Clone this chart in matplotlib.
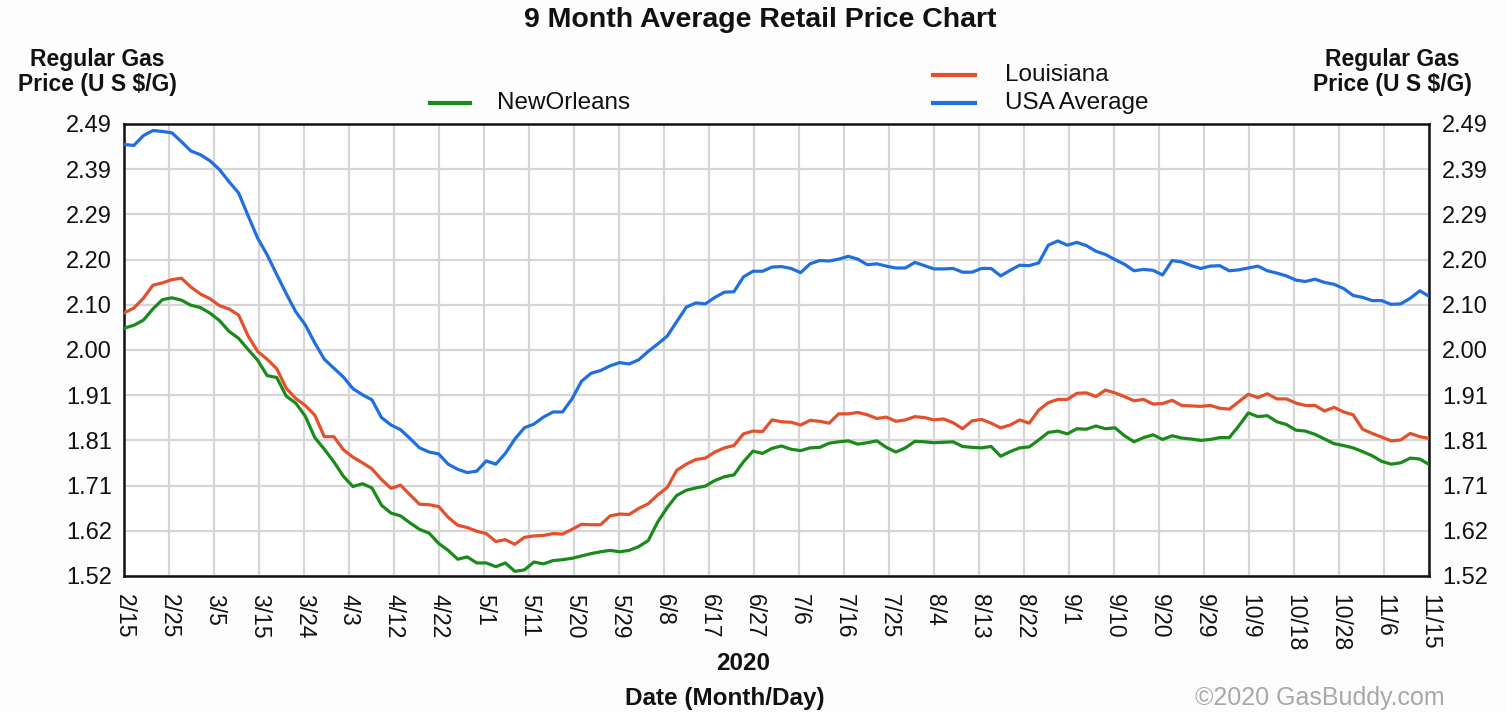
import numpy as np
import matplotlib
matplotlib.use("Agg")
import matplotlib.pyplot as plt
from matplotlib.lines import Line2D

plt.rcParams['font.family'] = ['Liberation Sans', 'DejaVu Sans']

# ---- data (day offset from Feb 15, 2020, sampled every 2 days) ----
days = np.arange(0, 275, 2)

usa_average = [
    2.446, 2.444, 2.465, 2.476, 2.474, 2.471, 2.452, 2.432, 2.424, 2.411,
    2.392, 2.366, 2.342, 2.293, 2.245, 2.209, 2.167, 2.126, 2.087, 2.059,
    2.020, 1.985, 1.966, 1.947, 1.922, 1.909, 1.898, 1.860, 1.844, 1.834,
    1.815, 1.795, 1.786, 1.782, 1.760,
    1.749, 1.742, 1.745, 1.767, 1.760, 1.783, 1.814, 1.838, 1.846, 1.861,
    1.872, 1.872, 1.900, 1.938, 1.955, 1.961, 1.971, 1.978, 1.975, 1.984,
    2.002, 2.018, 2.035, 2.066, 2.097, 2.106, 2.104, 2.118, 2.129, 2.130,
    2.162, 2.174, 2.174, 2.183, 2.184,
    2.180, 2.171, 2.190, 2.197, 2.196, 2.200, 2.206, 2.200, 2.188, 2.190,
    2.185, 2.181, 2.181, 2.193, 2.186, 2.179, 2.179, 2.180, 2.172, 2.172,
    2.180, 2.180, 2.164, 2.176, 2.187, 2.186, 2.192, 2.230, 2.239, 2.230,
    2.236, 2.229, 2.217, 2.210, 2.199,
    2.189, 2.175, 2.178, 2.176, 2.166, 2.197, 2.194, 2.186, 2.180, 2.185,
    2.186, 2.175, 2.177, 2.181, 2.185, 2.175, 2.170, 2.164, 2.155, 2.152,
    2.157, 2.150, 2.146, 2.137, 2.122, 2.118, 2.111, 2.111, 2.103, 2.104,
    2.116, 2.132, 2.120,
]

louisiana = [
    2.085, 2.095, 2.116, 2.144, 2.149, 2.156, 2.159, 2.140, 2.125, 2.115,
    2.100, 2.093, 2.080, 2.035, 2.002, 1.985, 1.965, 1.923, 1.901, 1.886,
    1.865, 1.819, 1.819, 1.791, 1.775, 1.763, 1.750, 1.727, 1.708, 1.715,
    1.694, 1.674, 1.673, 1.669, 1.646,
    1.629, 1.624, 1.616, 1.611, 1.594, 1.598, 1.588, 1.603, 1.606, 1.607,
    1.611, 1.610, 1.620, 1.631, 1.630, 1.630, 1.649, 1.653, 1.652, 1.665,
    1.675, 1.694, 1.710, 1.747, 1.760, 1.770, 1.773, 1.786, 1.795, 1.800,
    1.825, 1.831, 1.830, 1.855, 1.851,
    1.850, 1.844, 1.854, 1.852, 1.848, 1.868, 1.868, 1.871, 1.866, 1.858,
    1.861, 1.852, 1.855, 1.862, 1.860, 1.855, 1.857, 1.849, 1.836, 1.853,
    1.856, 1.848, 1.838, 1.844, 1.855, 1.848, 1.876, 1.892, 1.899, 1.899,
    1.912, 1.913, 1.905, 1.919, 1.913,
    1.905, 1.896, 1.899, 1.889, 1.890, 1.897, 1.886, 1.885, 1.884, 1.886,
    1.880, 1.878, 1.894, 1.910, 1.903, 1.911, 1.900, 1.900, 1.891, 1.886,
    1.886, 1.874, 1.882, 1.872, 1.866, 1.835, 1.826, 1.818, 1.810, 1.812,
    1.826, 1.819, 1.815,
]

new_orleans = [
    2.052, 2.058, 2.069, 2.093, 2.113, 2.117, 2.112, 2.101, 2.096, 2.084,
    2.068, 2.045, 2.030, 2.006, 1.983, 1.950, 1.946, 1.906, 1.891, 1.863,
    1.817, 1.792, 1.765, 1.734, 1.712, 1.718, 1.709, 1.672, 1.655, 1.649,
    1.634, 1.620, 1.612, 1.590, 1.575,
    1.556, 1.561, 1.548, 1.548, 1.540, 1.548, 1.530, 1.533, 1.550, 1.546,
    1.553, 1.555, 1.558, 1.563, 1.568, 1.572, 1.575, 1.572, 1.575, 1.583,
    1.596, 1.636, 1.667, 1.693, 1.704, 1.709, 1.713, 1.725, 1.733, 1.737,
    1.765, 1.788, 1.783, 1.794, 1.799,
    1.792, 1.789, 1.795, 1.796, 1.805, 1.808, 1.810, 1.803, 1.806, 1.810,
    1.796, 1.786, 1.795, 1.809, 1.808, 1.806, 1.807, 1.808, 1.798, 1.796,
    1.795, 1.798, 1.777, 1.787, 1.795, 1.797, 1.812, 1.828, 1.831, 1.825,
    1.836, 1.835, 1.842, 1.836, 1.838,
    1.821, 1.808, 1.817, 1.823, 1.813, 1.821, 1.816, 1.814, 1.811, 1.813,
    1.817, 1.817, 1.842, 1.870, 1.862, 1.864, 1.851, 1.845, 1.833, 1.831,
    1.824, 1.814, 1.804, 1.800, 1.795, 1.787, 1.778, 1.766, 1.760, 1.763,
    1.773, 1.771, 1.759,
]

x_tick_labels = ["2/15", "2/25", "3/5", "3/15", "3/24", "4/3", "4/12", "4/22",
                 "5/1", "5/11", "5/20", "5/29", "6/8", "6/17", "6/27", "7/6",
                 "7/16", "7/25", "8/4", "8/13", "8/22", "9/1", "9/10", "9/20",
                 "9/29", "10/9", "10/18", "10/28", "11/6", "11/15"]
y_tick_labels = ["1.52", "1.62", "1.71", "1.81", "1.91", "2.00", "2.10",
                 "2.20", "2.29", "2.39", "2.49"]

series_names = ["NewOrleans", "Louisiana", "USA Average"]
colors = {"NewOrleans": "#1a8a1a", "Louisiana": "#e5502c", "USA Average": "#1f6fe0"}

# ---- figure ----
W, H = 1507, 713
fig = plt.figure(figsize=(W / 100, H / 100), dpi=100, facecolor="#fdfdfd")
L, R, T, B = 124.3, 1429.3, 124, 576
ax = fig.add_axes([L / W, 1 - B / H, (R - L) / W, (B - T) / H])
ax.set_facecolor("white")

total_days = 274
ax.set_xlim(0, total_days)
ax.set_ylim(1.52, 2.49)
ax.set_xticks(np.linspace(0, total_days, len(x_tick_labels)))
ax.set_xticklabels(x_tick_labels, rotation=270, fontsize=16.5, va="top", ha="center")
ax.set_yticks(np.linspace(1.52, 2.49, len(y_tick_labels)))
ax.set_yticklabels(y_tick_labels, fontsize=17)
ax.tick_params(axis="both", length=0, colors="#111111")
ax.tick_params(axis="y", pad=9, labelright=True)
ax.tick_params(axis="x", pad=13)
ax.grid(True, color="#d6d6d6", linewidth=1.6)
ax.set_axisbelow(True)
for s in ax.spines.values():
    s.set_linewidth(1.8)
    s.set_color("#111111")

ax.plot(days, new_orleans, color=colors["NewOrleans"], lw=2.3, zorder=3)
ax.plot(days, louisiana, color=colors["Louisiana"], lw=2.3, zorder=4)
ax.plot(days, usa_average, color=colors["USA Average"], lw=2.3, zorder=5)

# ---- texts ----
def fx(px):
    return px / W

def fy(py):
    return 1 - py / H

fig.text(fx(760), fy(20), "9 Month Average Retail Price Chart", fontsize=20.5,
         fontweight="bold", ha="center", va="center", color="#111111")
for cx in (97, 1392):
    fig.text(fx(cx), fy(72), "Regular Gas\nPrice (U S $/G)", fontsize=16.5,
             fontweight="bold", ha="center", va="center", linespacing=1.15,
             color="#111111")

# legend
leg_items = [("NewOrleans", 430, 470, 497, 103),
             ("Louisiana", 933, 975, 1005, 75),
             ("USA Average", 933, 975, 1005, 103)]
for name, x0, x1, tx, ty in leg_items:
    fig.add_artist(Line2D([fx(x0), fx(x1)], [fy(ty), fy(ty)],
                          color=colors[name], lw=3, transform=fig.transFigure))
    fig.text(fx(tx), fy(ty), name, fontsize=17.5, ha="left", va="center",
             color="#111111")

fig.text(fx(743), fy(663), "2020", fontsize=17.5, fontweight="bold",
         ha="center", va="center", color="#111111")
fig.text(fx(725), fy(698), "Date (Month/Day)", fontsize=17.5, fontweight="bold",
         ha="center", va="center", color="#111111")
fig.text(fx(1320), fy(698), "\u00a92020 GasBuddy.com", fontsize=18,
         ha="center", va="center", color="#a8a8a8")

fig.savefig("out.png", dpi=100, facecolor=fig.get_facecolor())
